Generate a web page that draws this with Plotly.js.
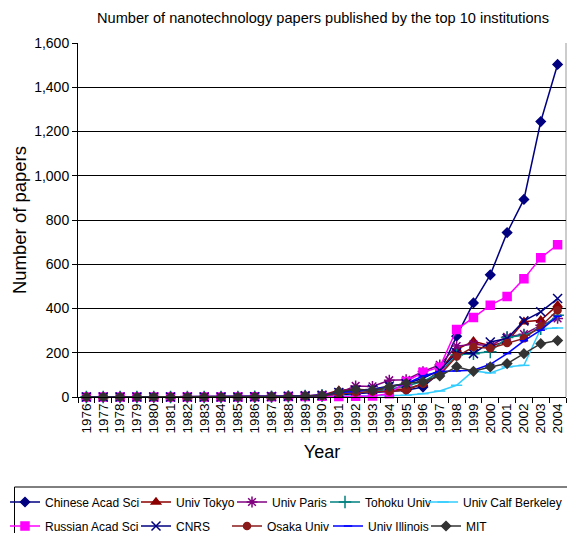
<!DOCTYPE html>
<html>
<head>
<meta charset="utf-8">
<script src="https://cdn.plot.ly/plotly-3.0.1.min.js"></script>
<style>html,body{margin:0;padding:0;background:#fff;}#chart{width:567px;height:533px;}</style>
</head>
<body>
<div id="chart"></div>
<script>
var years = ['1976','1977','1978','1979','1980','1981','1982','1983','1984','1985','1986','1987','1988','1989','1990','1991','1992','1993','1994','1995','1996','1997','1998','1999','2000','2001','2002','2003','2004'];
var zeros10 = [0,0,0,0,0,0,0,0,0,0];
var chineseAcadSci = zeros10.concat([1,2,3,4,6,10,15,20,25,30,45,110,275,425,552,743,893,1245,1503]);
var univTokyo = zeros10.concat([1,2,3,5,8,30,35,30,35,35,60,120,215,252,232,250,340,347,415]);
var univParis = zeros10.concat([1,2,3,6,10,20,50,48,76,78,115,145,230,238,232,272,284,324,355]);
var tohokuUniv = zeros10.concat([1,1,2,4,6,15,20,25,35,50,70,110,190,196,204,269,279,309,370]);
var univCalfBerkeley = zeros10.concat([0,0,1,1,2,5,5,5,6,8,15,27,53,118,109,136,143,309,312]);
var russianAcadSci = zeros10.concat([1,1,2,2,3,2,3,5,15,70,112,135,305,359,415,454,534,629,688]);
var cnrs = zeros10.concat([1,2,3,5,8,20,30,35,50,60,85,120,200,196,249,264,344,385,445]);
var osakaUniv = zeros10.concat([1,1,2,4,5,15,20,25,25,32,60,100,183,226,220,244,265,320,392]);
var univIllinois = zeros10.concat([1,2,3,5,8,20,25,35,45,60,95,115,118,121,148,196,254,302,365]);
var mit = zeros10.concat([1,2,3,5,7,24,34,31,46,62,69,95,137,116,136,151,196,241,255]);

var names = ['Chinese Acad Sci','Univ Tokyo','Univ Paris','Tohoku Univ','Univ Calf Berkeley','Russian Acad Sci','CNRS','Osaka Univ','Univ Illinois','MIT'];
var series = [chineseAcadSci, univTokyo, univParis, tohokuUniv, univCalfBerkeley, russianAcadSci, cnrs, osakaUniv, univIllinois, mit];
var colors = ['#000080','#8B0000','#800080','#008080','#33CCFF','#FF00FF','#000080','#8B1A1A','#0000FF','#333333'];
var symbols = ['diamond','triangle-up','asterisk-open','cross-thin-open','line-ew-open','square','x-thin-open','circle','line-ew-open','diamond'];
var sizes = [7,8,9,9,8,8,9,7,6,7];

// legend placement (pixels): text x positions, row centres
var legX = [45,176,272,365,466, 45,176,267,368,466];
var legY = [502,502,502,502,502, 526,526,526,526,526];

var W = 567, H = 533, L = 78, R = 566, T = 43, B = 397;
function px(x) { return (x - L) / (R - L); }
function py(y) { return (B - y) / (B - T); }

var traces = [];
var layout = {
  width: W, height: H,
  margin: {l: L, r: W - R, t: T, b: H - B},
  paper_bgcolor: '#fff', plot_bgcolor: '#fff',
  font: {family: 'Liberation Sans, Arial, sans-serif', color: '#000'},
  title: {text: 'Number of nanotechnology papers published by the top 10 institutions',
          font: {size: 14.6, color: '#000'}, x: px(323), xanchor: 'center', xref: 'paper', y: 1 - 18 / H, yanchor: 'middle'},
  xaxis: {type: 'category', tickangle: -90, tickfont: {size: 13.5}, ticks: 'outside', ticklen: 5, tickson: 'boundaries',
          tickcolor: '#000', showline: true, linecolor: '#000', linewidth: 1, showgrid: false, zeroline: false,
          range: [-0.5, 28.5], title: {text: 'Year', font: {size: 18}, standoff: 12}},
  yaxis: {range: [0, 1600], dtick: 200, tickformat: ',d', tickfont: {size: 14}, ticks: 'outside', ticklen: 5, tickcolor: '#000',
          showline: true, linecolor: '#000', linewidth: 1, showgrid: true, gridcolor: '#000', gridwidth: 1, zeroline: false,
          title: {text: 'Number of papers', font: {size: 18.5}, standoff: 2}},
  shapes: [
    {type: 'line', xref: 'paper', yref: 'paper', x0: 1, x1: 1, y0: 0, y1: 1, line: {color: '#999', width: 1}, layer: 'below'},
    {type: 'rect', xref: 'paper', yref: 'paper', x0: px(14.5), x1: px(580), y0: py(487), y1: py(560), line: {color: '#000', width: 1}}
  ],
  showlegend: true
};

for (var i = 0; i < series.length; i++) {
  var lname = i === 0 ? 'legend' : 'legend' + (i + 1);
  traces.push({
    type: 'scatter', mode: 'lines+markers', name: names[i], x: years, y: series[i],
    line: {color: colors[i], width: 1.5},
    marker: {symbol: symbols[i], size: sizes[i], color: colors[i], line: {color: colors[i], width: 1.5}},
    legend: lname, cliponaxis: false
  });
  layout[lname] = {
    x: px(legX[i] - 40), xanchor: 'left', xref: 'paper',
    y: 1 - legY[i] / H, yanchor: 'middle', yref: 'container',
    bgcolor: 'rgba(0,0,0,0)', borderwidth: 0, font: {size: 12, color: '#000'}
  };
}

Plotly.newPlot('chart', traces, layout, {displayModeBar: false, staticPlot: true});
</script>
</body>
</html>
